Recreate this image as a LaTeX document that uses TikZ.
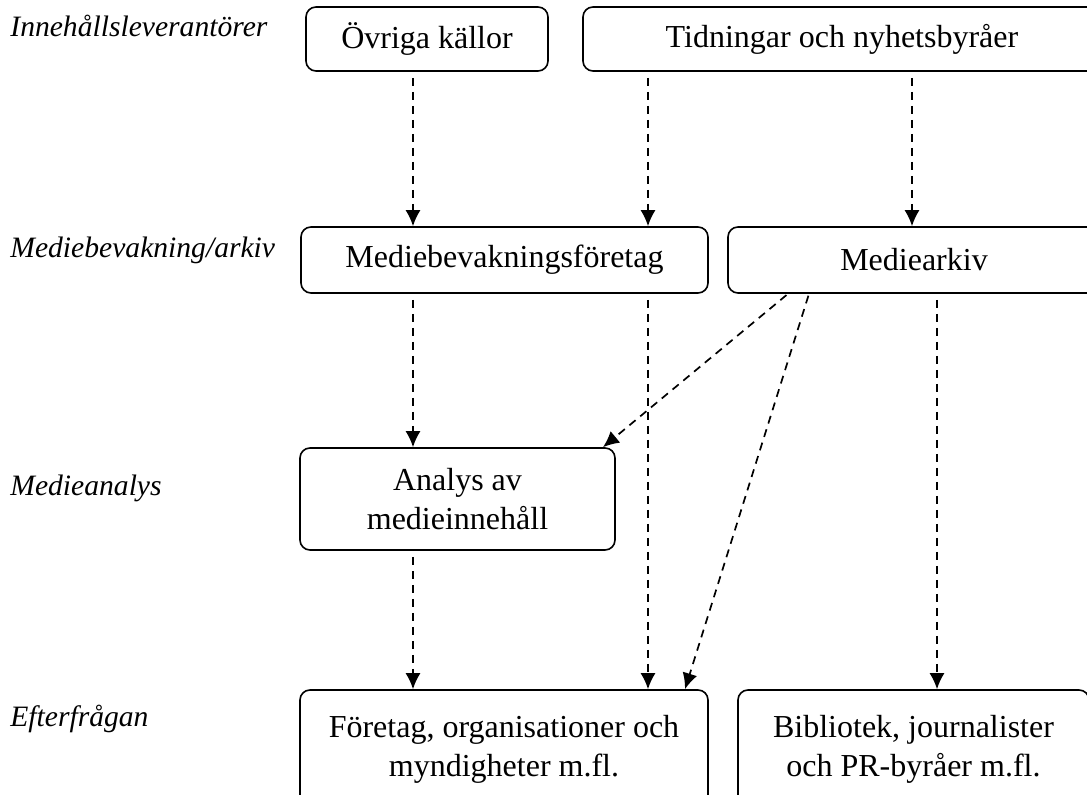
\documentclass[tikz,border=0pt]{standalone}
\usepackage{fontspec}
\setmainfont{Liberation Serif}
\usetikzlibrary{arrows.meta}
\tikzset{
  box/.style={draw, rounded corners=5pt, line width=0.8pt, align=center, inner sep=0pt,
    font=\fontsize{16}{19.5}\selectfont},
  lab/.style={anchor=base west, inner sep=0pt, font=\fontsize{14.8}{18}\selectfont\itshape},
  arr/.style={dash pattern=on 4pt off 3pt, line width=0.85pt,
    -{Latex[length=8pt,width=7.5pt]}, shorten <=3pt},
}
\begin{document}
\begin{tikzpicture}[x=0.5pt,y=-0.5pt]
\useasboundingbox (0,0) rectangle (1087,795);
% row labels
\node[lab] (l1) at (10,37) {Innehållsleverantörer};
\node[lab] (l2) at (10,258) {Mediebevakning/arkiv};
\node[lab] (l3) at (10,496) {Medieanalys};
\node[lab] (l4) at (10,727) {Efterfrågan};
% boxes
\node[box, minimum width=242pt*0.5, minimum height=64pt*0.5] (ovr) at (427,39) {Övriga källor};
\node[box, minimum width=518pt*0.5, minimum height=64pt*0.5] (tid) at (842,39) {Tidningar och nyhetsbyråer};
\node[box, minimum width=407pt*0.5, minimum height=66pt*0.5] (mb) at (504.5,260) {Mediebevakningsföretag};
\node[box, minimum width=372pt*0.5, minimum height=66pt*0.5] (ma) at (914,260) {Mediearkiv};
\node[box, minimum width=315pt*0.5, minimum height=102pt*0.5] (an) at (457.5,499) {Analys av\\medieinnehåll};
\node[box, minimum width=408pt*0.5, minimum height=118pt*0.5] (fo) at (504,749) {Företag, organisationer och\\myndigheter m.fl.};
\node[box, minimum width=351pt*0.5, minimum height=118pt*0.5] (bi) at (913.5,749) {Bibliotek, journalister\\och PR-byråer m.fl.};
% column coordinates
\coordinate (c1) at (413,0);
\coordinate (c2) at (648,0);
\coordinate (c3) at (912,0);
\coordinate (c4) at (937,0);
\coordinate (d1s) at (788,0);
\coordinate (d1e) at (603,0);
\coordinate (d2s) at (809,0);
\coordinate (d2e) at (685,0);
% connectors
\draw[arr] (ovr.south -| c1) -- (mb.north -| c1);
\draw[arr] (tid.south -| c2) -- (mb.north -| c2);
\draw[arr] (tid.south -| c3) -- (ma.north -| c3);
\draw[arr] (mb.south -| c1) -- (an.north -| c1);
\draw[arr] (mb.south -| c2) -- (fo.north -| c2);
\draw[arr] (an.south -| c1) -- (fo.north -| c1);
\draw[arr] (ma.south -| c4) -- (bi.north -| c4);
\draw[arr, shorten <=1pt] (ma.south -| d1s) -- (an.north -| d1e);
\draw[arr, shorten <=1pt] (ma.south -| d2s) -- (fo.north -| d2e);
\end{tikzpicture}
\end{document}
